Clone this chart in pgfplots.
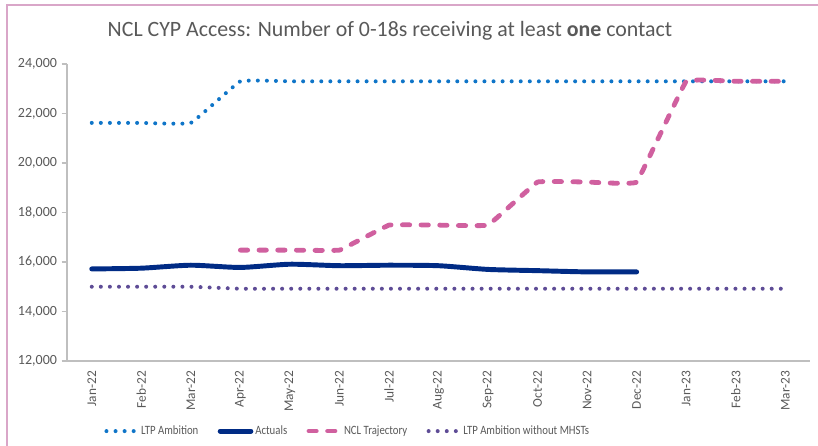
\documentclass[border=0pt]{standalone}
\usepackage{pgfplots}
\pgfplotsset{compat=1.18}
\usepackage{fontspec}
\setmainfont{Carlito}
\newfontfamily\legfont[FakeStretch=0.85]{Carlito}
\definecolor{ltpblue}{HTML}{0F75C8}
\definecolor{actnavy}{HTML}{002B85}
\definecolor{nclpink}{HTML}{D0609F}
\definecolor{mhpurple}{HTML}{5E4C96}
\definecolor{txtgray}{HTML}{595959}
\definecolor{axgray}{HTML}{BFBFBF}
\definecolor{framepink}{HTML}{D9A6C8}
\begin{document}
\begin{tikzpicture}[x=0.75pt,y=0.75pt]
\useasboundingbox (0,0) rectangle (818,446);
\draw[framepink, line width=1pt] (7,0) -- (7,441) -- (818,441);
\node[txtgray, font=\fontsize{16.4pt}{19pt}\selectfont] at (390,415) {NCL CYP Access: Number of 0-18s receiving at least \textbf{one} contact};
\begin{axis}[
  at={(50.25pt,63.75pt)}, anchor=south west,
  scale only axis, width=557.25pt, height=222.75pt,
  xmin=-0.5, xmax=14.5, ymin=12000, ymax=24000,
  axis x line=bottom, axis y line=left,
  axis line style={axgray, line width=0.8pt, -},
  xtick={0,...,14},
  xticklabels={Jan-22,Feb-22,Mar-22,Apr-22,May-22,Jun-22,Jul-22,Aug-22,Sep-22,Oct-22,Nov-22,Dec-22,Jan-23,Feb-23,Mar-23},
  x tick label style={rotate=90, anchor=east, font=\fontsize{10pt}{12pt}\selectfont, text=txtgray},
  xtick style={draw=none},
  extra x ticks={-0.5,0.5,...,14.5},
  extra x tick labels={},
  extra x tick style={tick style={axgray, line width=0.8pt}, major tick length=4pt, tick align=outside},
  ytick={12000,14000,...,24000},
  y tick label style={font=\fontsize{10.5pt}{12pt}\selectfont, text=txtgray},
  ytick style={axgray, line width=0.8pt},
  major tick length=4pt, tick align=outside,
  /pgf/number format/.cd, 1000 sep={,}, assume math mode=true, /pgfplots/.cd,
  scaled y ticks=false,
  clip=false,
  legend columns=4,
  legend style={at={(0.378,-0.236)}, anchor=center, draw=none, fill=none,
    font=\legfont\fontsize{9.5pt}{11pt}\selectfont, text=txtgray,
    nodes={inner xsep=1.5pt},
    /tikz/every even column/.append style={column sep=13pt}},
  legend image code/.code={\draw[#1] (0pt,0pt) -- (23pt,0pt);},
]
\addplot[ltpblue, line width=3pt, line cap=round, dash pattern=on 0pt off 6.8pt, smooth, tension=0.15] coordinates {
(0,21620)(1,21620)(2,21620)(3,23300)(4,23300)(5,23300)(6,23300)(7,23300)(8,23300)(9,23300)(10,23300)(11,23300)(12,23300)(13,23300)(14,23300)};
\addlegendentry{LTP Ambition}
\addplot[actnavy, line width=3.7pt, line cap=round, smooth, tension=0.4] coordinates {
(0,15720)(1,15750)(2,15870)(3,15780)(4,15910)(5,15850)(6,15870)(7,15850)(8,15700)(9,15650)(10,15600)(11,15600)};
\addlegendentry{Actuals}
\addplot[nclpink, line width=3.6pt, line cap=round, dash pattern=on 5.5pt off 8.5pt, smooth, tension=0.1] coordinates {
(3,16480)(4,16480)(5,16480)(6,17490)(7,17490)(8,17490)(9,19230)(10,19230)(11,19230)(12,23300)(13,23300)(14,23300)};
\addlegendentry{NCL Trajectory}
\addplot[mhpurple, line width=3pt, line cap=round, dash pattern=on 0pt off 6.8pt, smooth, tension=0.15] coordinates {
(0,15000)(1,15000)(2,15000)(3,14920)(4,14920)(5,14920)(6,14920)(7,14920)(8,14920)(9,14920)(10,14920)(11,14920)(12,14920)(13,14920)(14,14920)};
\addlegendentry{LTP Ambition without MHSTs}
\end{axis}
\end{tikzpicture}
\end{document}
